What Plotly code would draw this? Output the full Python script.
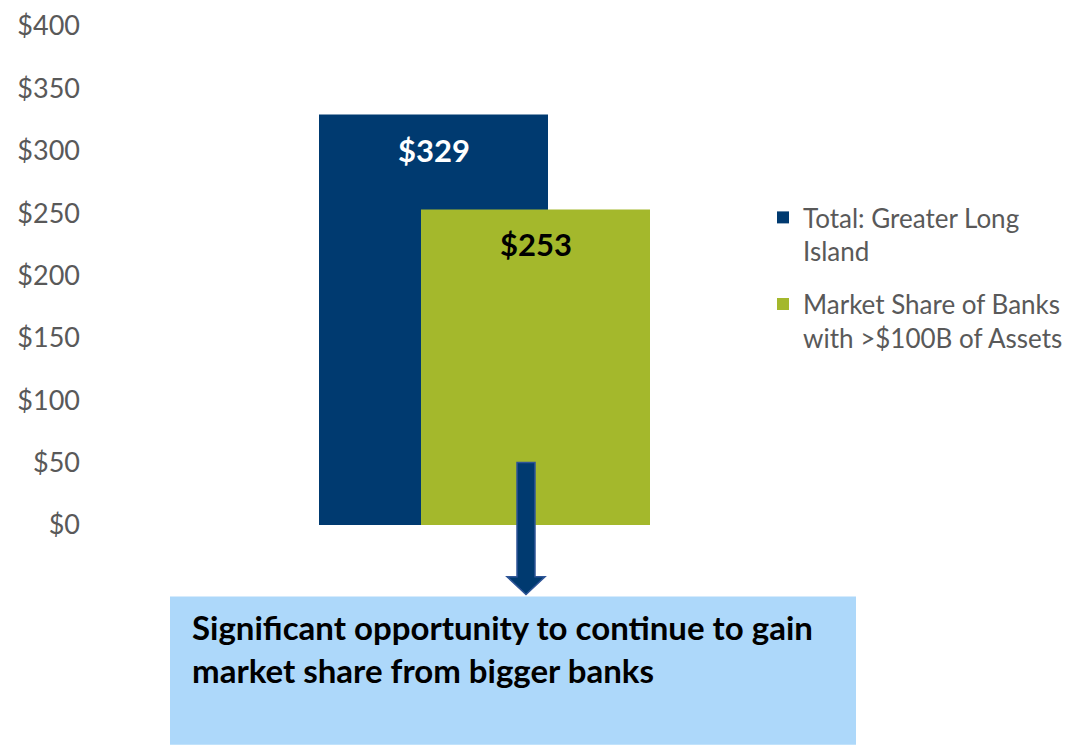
import plotly.graph_objects as go

# ---- data ----
category = ["Deposits"]
series_names = ["Total: Greater Long<br>Island", "Market Share of Banks<br>with >$100B of Assets"]
series_values = [329, 253]
value_labels = ["$329", "$253"]
tick_values = [0, 50, 100, 150, 200, 250, 300, 350, 400]
tick_labels = ["$0", "$50", "$100", "$150", "$200", "$250", "$300", "$350", "$400"]
callout_text = "Significant opportunity to continue to gain<br>market share from bigger banks"

# ---- style ----
OFF = 8  # page body margin in the browser
W, H = 1076 - OFF, 745 - OFF
ML, MR, MT, MB = 90 - OFF, 0, 23 - OFF, 220
PW, PH = W - ML - MR, H - MT - MB
colors = ["#003A70", "#A4B82C"]
label_colors = ["#FFFFFF", "#000000"]
GRAY = "#595959"
FONT = "Lato"


def px_x(px):
    return (px - OFF - ML) / PW


def px_y(py):
    return (H - MB - (py - OFF)) / PH


# bar left edges expressed relative to the category centre (axis units)
centre_px = OFF + ML + PW / 2
offsets = [(319 - centre_px) / PW, (421 - centre_px) / PW]
bar_width = 229 / PW

fig = go.Figure()
for i, (name, val, col, off) in enumerate(zip(series_names, series_values, colors, offsets)):
    fig.add_trace(go.Bar(
        x=category, y=[val], name=name, marker=dict(color=col, line=dict(width=0)),
        width=bar_width, offset=off, hoverinfo="y", legendgroup=f"g{i}",
    ))

# value labels inside bars
for val, lab, lc, off in zip(series_values, value_labels, label_colors, offsets):
    fig.add_annotation(
        x=0 + off + bar_width / 2, y=val, xref="x", yref="y", text=lab,
        showarrow=False, yshift=-35, yanchor="middle", xanchor="center",
        font=dict(family=FONT, size=31, color=lc, weight="bold"),
    )

# callout box
fig.add_shape(type="rect", xref="paper", yref="paper",
              x0=px_x(170), x1=px_x(856), y0=px_y(746), y1=px_y(597),
              fillcolor="#ADD8FA", line=dict(width=0), layer="below")

# arrow
pts = [(517, 462), (535, 462), (535, 577), (545, 577), (526, 595), (507, 577), (517, 577)]
path = "M " + " L ".join(f"{px_x(a):.5f},{px_y(b):.5f}" for a, b in pts) + " Z"
fig.add_shape(type="path", xref="paper", yref="paper", path=path,
              fillcolor="#003A70", line=dict(color="#2F5597", width=1.5), layer="above")

fig.add_annotation(
    x=px_x(190), y=px_y(605), xref="paper", yref="paper", text=callout_text,
    showarrow=False, xanchor="left", yanchor="top", align="left",
    font=dict(family=FONT, size=33, color="#000000", weight="bold"),
)

fig.update_layout(
    width=W, height=H,
    margin=dict(l=ML, r=MR, t=MT, b=MB, pad=0),
    paper_bgcolor="white", plot_bgcolor="white",
    barmode="overlay",
    font=dict(family=FONT, color=GRAY),
    showlegend=True,
    legend=dict(
        x=px_x(763), y=px_y(192), xanchor="left", yanchor="top",
        font=dict(family=FONT, size=26, color=GRAY),
        valign="top", tracegroupgap=16, traceorder="grouped",
        bgcolor="rgba(0,0,0,0)",
    ),
    xaxis=dict(type="category", range=[-0.5, 0.5], showticklabels=False,
               showgrid=False, zeroline=False, showline=False, ticks=""),
    yaxis=dict(range=[0, 400], tickvals=tick_values, ticktext=tick_labels,
               showgrid=False, zeroline=False, showline=False, ticks="",
               ticklabelstandoff=9, ticklabeloverflow="allow",
               tickfont=dict(family=FONT, size=27, color=GRAY)),
)

fig.write_html("out.html")
